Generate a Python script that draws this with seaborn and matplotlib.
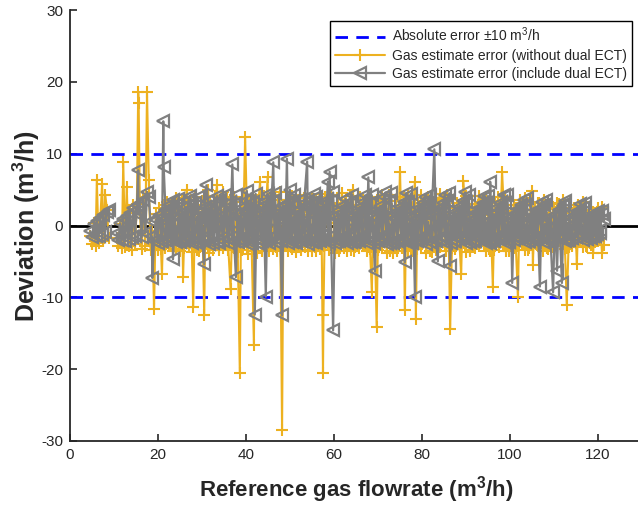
import matplotlib
matplotlib.use("Agg")
import matplotlib.pyplot as plt
from matplotlib.lines import Line2D
import seaborn as sns
import pandas as pd

# ---------------- data ----------------
# cluster 1
flow_1 = [4.6, 5.0, 5.4, 5.8, 6.1, 6.5, 6.9, 7.3, 7.6, 8.0, 8.4, 8.8]
incl_1 = [-0.8, -1.6, 0.2, -1.5, 0.6, -1.4, 1.0, -1.2, 1.5, -0.9, 1.9, 2.2]
without_1 = [-1.5, -2.6, 0.3, -2.8, 6.3, -2.4, 1.1, 5.8, -2.2, 4.3, 2.2, -1.8]

# cluster 2
flow_2 = [10.6, 11.0, 11.4, 11.8, 12.1, 12.5, 12.9, 13.3, 13.6, 14.0, 14.4,
          14.8, 15.2, 15.5, 15.6, 15.9, 16.3, 16.7, 17.1, 17.5, 17.9, 18.3]
incl_2 = [-1.0, -2.0, 0.3, -2.0, 0.9, -2.2, 1.3, -1.9, 1.8, -1.6, 2.4,
          -1.4, 2.8, 7.7, 1.5, 3.2, -1.6, 3.6, -1.0, 4.7, 3.9, 0.6]
without_2 = [-1.8, -2.9, 0.2, -3.1, 8.9, -3.0, 5.3, -2.8, 1.7, -3.4, 2.8,
             -2.6, 3.0, 18.6, 17.1, 1.8, -3.3, 4.0, -2.8, 18.6, 6.4, -3.4]

# cluster 3 (main run, with the outliers)
flow_3 = [
    18.6, 18.7, 19.1, 19.5, 19.9, 20.3, 20.9, 21.2, 21.3, 21.7, 22.1, 22.5, 22.9, 23.3,
    23.4, 23.8, 24.2, 24.6, 25.0, 25.4, 25.7, 26.1, 26.5, 26.9, 27.3,
    27.7, 28.0, 28.4, 28.8, 29.2, 29.6, 30.0, 30.5, 30.7, 31.0, 31.4,
    31.7, 32.1, 32.5, 32.9, 33.4, 33.8, 34.2, 34.8, 35.2, 35.6,
    36.0, 36.5, 36.9, 37.3, 37.7, 38.1, 38.6, 38.9, 39.3, 39.8, 40.2,
    40.5, 40.9, 41.3, 41.8, 42.0, 42.4, 42.8, 43.2, 43.6, 44.0, 44.5, 44.9,
    45.2, 45.6, 46.2, 46.5, 46.9, 47.3, 47.7, 48.2, 48.5, 48.9, 49.3,
    49.6, 50.0, 50.4, 50.8, 51.2, 51.6, 52.0, 52.3, 52.8, 53.2, 53.9,
    54.1, 54.5, 54.9, 55.3, 55.7, 56.0, 56.4, 56.8, 57.2, 57.5, 57.6, 58.0, 58.6,
    58.8, 59.0, 59.8, 60.2, 60.6, 61.0, 61.4, 61.8, 62.2, 62.6,
    63.0, 63.4, 63.8, 64.3, 64.7, 65.1, 65.5, 65.9, 66.3, 66.7, 67.1,
    67.4, 67.8, 68.2, 68.6, 69.0, 69.3, 69.7, 70.1, 70.5, 70.9, 71.3, 71.7,
    72.0, 72.4, 72.8, 73.2, 73.6, 74.0, 74.5, 75.0, 75.4, 75.8, 76.1, 76.4,
    76.8, 77.2, 77.6, 78.0, 78.4, 78.6, 79.0, 79.4, 79.8, 80.2, 80.6,
    81.0, 81.4, 81.8, 82.2, 82.8, 83.2, 83.6, 84.0, 84.4, 84.8, 85.2,
    85.5, 86.0, 86.4, 86.8, 87.2, 87.6, 88.0, 88.5, 88.9, 89.4, 89.8,
    90.0, 90.4, 90.8, 91.2, 91.6, 92.0, 92.4, 92.9, 93.3, 93.8, 94.2,
    94.5, 94.9, 95.3, 95.5, 95.8, 96.1, 96.5, 96.9, 97.3, 97.7, 98.2, 98.6,
    99.0, 99.4, 99.8, 100.2, 100.5, 100.9, 101.3, 101.8, 102.2, 102.6, 103.1,
    103.5, 103.9, 104.3, 104.7, 105.0, 105.2, 105.6, 106.0, 106.4, 106.8, 107.2,
    107.6, 108.0, 108.4, 108.8, 109.2, 109.8, 110.2, 110.7, 111.1, 111.8, 112.2,
    112.5, 112.9, 113.3, 113.7, 114.1, 114.5, 115.0, 115.2, 115.6, 116.0,
    116.5, 116.9, 117.3, 117.7, 118.1, 118.5, 118.9, 119.3, 119.7, 120.1, 120.5, 120.9, 121.3,
]
incl_3 = [
    -1.5, -7.3, -2.2, 0.8, -2.4, 1.5, -2.1, 14.5, 8.1, 2.2, -1.8, 2.8, -1.5, 3.6,
    -4.7, 0.4, -2.3, 1.1, -2.1, 1.8, -1.9, 2.6, -1.6, 3.5, 4.1,
    -2.5, 0.2, -2.3, 1.2, -2.0, 1.9, -1.8, -5.4, 2.6, 5.6, 3.4,
    -2.6, 0.6, -2.4, 1.4, -2.1, 2.0, 3.6, -1.6, 4.3, 3.0,
    -2.4, 0.5, 8.5, -2.2, -7.2, 1.6, -2.0, 2.4, -1.6, 3.4, 4.8,
    -2.6, 0.7, -2.4, 1.2, -12.4, 1.8, -2.0, 2.6, -1.7, 3.3, -9.9, 4.4,
    -2.5, 0.6, 8.8, -2.3, 1.6, -2.0, 2.4, -12.5, 2.8, -1.5, 9.3,
    -2.4, 5.0, -2.3, 1.3, -2.1, 2.0, -1.8, 3.6, -1.5, 3.1, 8.9,
    -2.6, 0.6, -2.3, 1.4, -2.1, 4.0, -1.8, 2.7, -1.5, 1.9, 3.3, -1.2, 6.1,
    -2.4, 7.5, -14.6, 1.3, -2.2, 2.0, -1.9, 2.7, -1.5, 3.7,
    -2.5, 0.6, -2.3, 1.3, -2.1, 1.9, -1.8, 2.6, -1.5, 3.3, 4.2,
    -2.4, 6.7, -2.2, 1.3, -2.0, -6.4, 1.9, -1.7, 2.7, -1.4, 3.9, 4.6,
    -2.6, 0.6, -2.4, 1.3, -2.1, 1.9, -1.9, 2.6, -1.6, 3.3, -5.1, 4.5,
    -2.5, 0.5, -2.3, 1.2, -9.9, 1.8, -2.0, 2.4, -1.6, 3.1, 4.0,
    -2.6, 0.5, -2.3, 1.3, 10.6, -2.0, -5.0, 2.5, -1.6, 3.2, 4.3,
    -2.5, 0.6, -5.6, 1.3, -2.1, 1.9, -1.8, 2.6, -1.5, 3.4, 4.6,
    -2.5, 0.5, -2.3, 1.2, -2.1, 1.8, -1.8, 2.5, -1.5, 3.1, 4.1,
    -2.4, 0.6, -2.2, 6.1, -2.0, 1.6, -1.8, 2.4, -1.5, 3.1, -1.2, 4.2,
    -2.4, 0.4, -2.2, 1.2, -8.0, 1.6, -1.8, 2.3, -1.5, 2.9, 3.6,
    -2.3, 0.4, -2.1, 1.1, -1.9, 1.5, -1.7, 2.1, -1.4, -8.5, 3.3,
    -2.3, 0.3, -2.1, 1.0, -1.9, -9.3, 1.5, -6.3, 2.1, -8.0, 3.0,
    -2.2, 0.3, -2.0, 1.0, -1.8, 1.5, -1.6, 2.0, -1.3, 3.0,
    -2.0, 0.3, -1.8, 0.9, -1.6, 1.3, -1.4, 1.7, -1.2, 2.0, -0.6, 1.6, 0.9,
]
without_3 = [
    -2.6, -0.8, -11.6, 1.6, -3.4, 2.4, -6.8, 0.5, 2.9, -3.1, 3.3, -2.7, 3.0, -1.2,
    -3.5, 1.5, -3.3, 2.5, -2.9, 3.6, -7.1, 1.2, 5.0, -1.8, 2.9,
    -3.7, -11.3, 1.8, -3.4, 2.9, -3.0, 3.4, -12.4, -2.2, 2.4, 4.9,
    -3.8, 1.4, -3.4, 2.4, 5.6, -3.0, 2.2, 4.7, -2.2, 3.7,
    -3.4, -8.9, 1.5, -3.2, 2.1, -2.8, -20.6, 3.3, -2.4, 12.3, 2.2,
    -3.9, 1.3, -3.5, -16.6, 2.0, -3.0, 3.2, 6.0, -2.5, 4.1, 1.5, 6.7,
    -3.6, 1.4, -3.3, 2.4, -3.0, 3.5, 4.7, -28.4, 2.0, -2.4, 3.0,
    -3.6, 0.6, -3.3, 2.7, -2.9, 3.3, -2.6, 4.2, -2.2, 3.8, 1.9,
    -3.6, 1.4, -3.5, 2.3, -3.0, 3.6, -2.6, 4.4, -2.2, -20.6, -12.4, 4.0, 2.3,
    -3.4, 0.4, -3.2, 2.5, -3.0, 3.0, -2.6, 4.5, -2.0, 3.2,
    -3.6, 1.2, -3.4, 5.0, -3.0, 2.8, -2.6, 4.0, -2.3, 3.5, 1.8,
    -3.5, 0.5, -3.3, -9.2, 2.4, -2.9, -14.1, 3.4, -2.5, 4.3, -1.8, 3.0,
    -3.8, 1.2, -3.5, 2.3, -3.1, 3.4, -2.7, 7.5, -2.3, 3.9, -11.8, 2.0,
    -3.6, 1.3, -3.3, 2.6, 6.0, -13.0, 3.1, -2.6, 4.2, -2.0, 3.3,
    -3.8, 1.0, -3.5, 2.3, -2.9, 3.6, -2.6, 4.4, -2.2, 3.8, 1.6,
    -3.6, 1.1, -14.4, -3.2, 2.4, -2.9, 3.2, -2.5, -6.8, 6.2, 2.1,
    -3.7, 1.2, -3.4, 2.3, -3.0, 3.0, -2.6, 4.1, -2.2, 3.5, 1.7,
    -3.5, 1.0, -3.3, 1.8, -2.9, -8.5, 3.1, -2.5, 4.0, -2.1, 7.4, 2.4,
    -3.6, 0.9, -3.3, 2.0, -2.9, 2.9, -2.5, -9.9, 3.6, -2.0, 3.0,
    -3.4, 1.0, -3.1, 2.2, 4.8, -5.5, 2.6, -2.6, 3.2, -2.2, 2.5,
    -3.5, 0.8, -3.2, 1.8, -2.8, 2.6, -2.6, 3.1, -2.2, 2.4, 1.2,
    -3.3, -11.0, -3.0, 1.7, -2.7, 2.4, -2.4, -5.3, 2.6, 1.0,
    -3.0, 0.6, -2.8, 1.4, -2.5, 2.0, -3.8, 1.5, -2.2, -2.1, 0.9, -3.8, -2.7,
]

# cluster 4 (second pass over the main range, inside the band)
flow_4 = [
    20.6, 21.1, 21.6, 22.1, 22.6, 23.1, 23.6, 24.1, 24.6,
    25.0, 25.5, 26.0, 26.5, 27.0, 27.5, 28.0, 28.5, 29.0,
    29.4, 29.9, 30.4, 30.9, 31.4, 31.9, 32.4, 32.9, 33.4,
    33.8, 34.3, 34.8, 35.3, 35.8, 36.3, 36.8, 37.3, 37.8,
    38.2, 38.7, 39.2, 39.7, 40.2, 40.7, 41.2, 41.7, 42.2,
    42.6, 43.1, 43.6, 44.1, 44.6, 45.1, 45.6, 46.1, 46.6,
    47.0, 47.5, 48.0, 48.5, 49.0, 49.5, 50.0, 50.5, 51.0,
    51.4, 51.9, 52.4, 52.9, 53.4, 53.9, 54.4, 54.9, 55.4,
    55.8, 56.3, 56.8, 57.3, 57.8, 58.3, 58.8, 59.3, 59.8,
    60.2, 60.7, 61.2, 61.7, 62.2, 62.7, 63.2, 63.7, 64.2,
    64.6, 65.1, 65.6, 66.1, 66.6, 67.1, 67.6, 68.1, 68.6,
    69.0, 69.5, 70.0, 70.5, 71.0, 71.5, 72.0, 72.5, 73.0,
    73.4, 73.9, 74.4, 74.9, 75.4, 75.9, 76.4, 76.9, 77.4,
    77.8, 78.3, 78.8, 79.3, 79.8, 80.3, 80.8, 81.3, 81.8,
    82.2, 82.7, 83.2, 83.7, 84.2, 84.7, 85.2, 85.7, 86.2,
    86.6, 87.1, 87.6, 88.1, 88.6, 89.1, 89.6, 90.1, 90.6,
    91.0, 91.5, 92.0, 92.5, 93.0, 93.5, 94.0, 94.5, 95.0,
    95.4, 95.9, 96.4, 96.9, 97.4, 97.9, 98.4, 98.9, 99.4,
    99.8, 100.3, 100.8, 101.3, 101.8, 102.3, 102.8, 103.3, 103.8,
    104.2, 104.7, 105.2, 105.7, 106.2, 106.7, 107.2, 107.7, 108.2,
    108.6, 109.1, 109.6, 110.1, 110.6, 111.1, 111.6, 112.1, 112.6,
    113.0, 113.5, 114.0, 114.5, 115.0, 115.5, 116.0, 116.5, 117.0,
    117.4, 117.9, 118.4, 118.9, 119.4, 119.9, 120.4, 120.9,
]
incl_4 = [
    -2.1, 0.8, -2.0, 1.6, -1.7, 2.3, -1.4, 2.9, 3.7,
    -2.3, 0.9, -2.1, 1.8, -1.9, 2.5, -1.6, 3.1, 4.0,
    -2.2, 1.0, -2.0, 1.7, -1.8, 2.4, -1.5, 3.2, 4.1,
    -2.4, 0.8, -2.1, 1.6, -1.9, 2.3, -1.6, 3.0, 4.2,
    -2.3, 0.9, -2.2, 1.8, -1.8, 2.5, -1.5, 3.3, 4.4,
    -2.5, 1.0, -2.2, 1.9, -2.0, 2.6, -1.6, 3.4, 4.5,
    -2.4, 0.9, -2.1, 1.8, -1.9, 2.5, -1.6, 3.3, 4.3,
    -2.5, 0.8, -2.2, 1.7, -2.0, 2.4, -1.7, 3.2, 4.4,
    -2.4, 1.0, -2.1, 1.9, -1.9, 2.6, -1.6, 3.4, 4.6,
    -2.5, 0.9, -2.2, 1.8, -2.0, 2.5, -1.7, 3.3, 4.3,
    -2.3, 0.8, -2.1, 1.7, -1.8, 2.4, -1.5, 3.1, 4.2,
    -2.4, 1.0, -2.2, 1.9, -1.9, 2.6, -1.6, 3.4, 4.5,
    -2.5, 0.9, -2.2, 1.8, -2.0, 2.5, -1.7, 3.3, 4.4,
    -2.4, 0.8, -2.1, 1.7, -1.9, 2.4, -1.6, 3.2, 4.2,
    -2.5, 1.0, -2.2, 1.9, -2.0, 2.6, -1.7, 3.4, 4.5,
    -2.4, 0.9, -2.1, 1.8, -1.9, 2.5, -1.6, 3.3, 4.3,
    -2.3, 0.8, -2.1, 1.7, -1.8, 2.4, -1.5, 3.1, 4.1,
    -2.4, 0.9, -2.2, 1.8, -1.9, 2.5, -1.6, 3.2, 4.2,
    -2.3, 0.8, -2.0, 1.6, -1.8, 2.3, -1.5, 2.9, 3.8,
    -2.2, 0.7, -2.0, 1.5, -1.7, 2.2, -1.4, 2.8, 3.6,
    -2.1, 0.7, -1.9, 1.4, -1.7, 2.1, -1.4, 2.7, 3.4,
    -2.0, 0.6, -1.8, 1.3, -1.6, 1.9, -1.3, 2.5, 3.2,
    -1.9, 0.5, -1.7, 1.1, -1.4, 1.6, -1.0, 2.0,
]
without_4 = [
    -3.3, 1.7, -3.0, 2.5, -2.7, 3.2, -2.3, 3.8, 1.4,
    -3.5, 1.9, -3.2, 2.7, -2.9, 3.5, -2.5, 4.0, 1.6,
    -3.6, 1.6, -3.3, 2.8, -3.0, 3.3, -2.6, 4.1, 1.8,
    -3.4, 1.8, -3.1, 2.6, -2.8, 3.6, -2.4, 3.9, 1.5,
    -3.7, 1.7, -3.4, 2.7, -3.0, 3.4, -2.6, 4.2, 1.7,
    -3.8, 1.9, -3.5, 2.9, -3.1, 3.7, -2.7, 4.3, 1.8,
    -3.6, 1.8, -3.3, 2.8, -2.9, 3.5, -2.5, 4.1, 1.6,
    -3.7, 1.6, -3.4, 2.6, -3.0, 3.4, -2.6, 4.0, 1.5,
    -3.6, 1.9, -3.3, 2.9, -2.9, 3.6, -2.5, 4.3, 1.9,
    -3.8, 1.8, -3.5, 2.7, -3.1, 3.5, -2.7, 4.1, 1.7,
    -3.5, 1.7, -3.2, 2.6, -2.8, 3.3, -2.4, 4.0, 1.6,
    -3.7, 1.9, -3.4, 2.8, -3.0, 3.6, -2.6, 4.2, 1.8,
    -3.8, 1.8, -3.5, 2.7, -3.1, 3.5, -2.7, 4.1, 1.7,
    -3.6, 1.7, -3.3, 2.6, -2.9, 3.4, -2.5, 4.0, 1.6,
    -3.7, 1.9, -3.4, 2.8, -3.0, 3.6, -2.6, 4.2, 1.8,
    -3.6, 1.8, -3.3, 2.7, -2.9, 3.5, -2.5, 4.1, 1.7,
    -3.5, 1.7, -3.2, 2.6, -2.8, 3.3, -2.4, 3.9, 1.5,
    -3.6, 1.8, -3.4, 2.7, -3.0, 3.4, -2.6, 4.0, 1.6,
    -3.5, 1.6, -3.2, 2.5, -2.8, 3.2, -2.4, 3.8, 1.4,
    -3.4, 1.5, -3.1, 2.4, -2.7, 3.1, -2.3, 3.6, 1.3,
    -3.3, 1.4, -3.0, 2.3, -2.6, 3.0, -2.2, 3.5, 1.2,
    -3.2, 1.3, -2.9, 2.1, -2.5, 2.8, -2.1, 3.3, 1.1,
    -3.0, 1.1, -2.7, 1.9, -2.3, 2.4, -1.8, 2.6,
]

limit_lines = [10, -10]
x_ticks = [0, 20, 40, 60, 80, 100, 120]
y_ticks = [-30, -20, -10, 0, 10, 20, 30]

# ---------------- style ----------------
sns.set_theme(style="white")
plt.rcParams["font.family"] = ["Liberation Sans", "DejaVu Sans"]
plt.rcParams["axes.unicode_minus"] = False
plt.rcParams["mathtext.fontset"] = "custom"
plt.rcParams["mathtext.rm"] = "Liberation Sans"
plt.rcParams["mathtext.bf"] = "Liberation Sans:bold"

YELLOW = "#EDB120"
GRAY = "#808080"
BLUE = "#0000FF"
TXT = "#262626"

fig = plt.figure(figsize=(6.38, 5.09), dpi=100)
ax = fig.add_axes([70 / 638, 1 - 441 / 509, (642 - 70) / 638, (441 - 10) / 509])

ax.axhline(0, color="black", lw=2.0, zorder=1)
for yv in limit_lines:
    ax.axhline(yv, color=BLUE, lw=2.0, ls=(0, (4.5, 3)), zorder=1)

clusters = [(flow_1, without_1, incl_1), (flow_2, without_2, incl_2),
            (flow_4, without_4, incl_4), (flow_3, without_3, incl_3)]
for fl, wo, inc in clusters:
    df = pd.DataFrame({"flow": fl, "without": wo, "include": inc})
    sns.lineplot(data=df, x="flow", y="without", sort=False, estimator=None,
                 color=YELLOW, lw=1.5, marker="+", markersize=8,
                 markeredgewidth=1.5, markeredgecolor=YELLOW, ax=ax, zorder=2)
for fl, wo, inc in clusters:
    df = pd.DataFrame({"flow": fl, "without": wo, "include": inc})
    sns.lineplot(data=df, x="flow", y="include", sort=False, estimator=None,
                 color=GRAY, lw=1.6, marker="<", markersize=8.5,
                 markeredgewidth=1.6, markeredgecolor=GRAY,
                 markerfacecolor="none", ax=ax, zorder=3)

ax.set_xlim(0, 130)
ax.set_ylim(-30, 30)
ax.set_xticks(x_ticks)
ax.set_yticks(y_ticks)
ax.tick_params(direction="in", length=5, width=1.2, labelsize=11,
               colors=TXT, pad=5, left=True, bottom=True)
for s in ["top", "right"]:
    ax.spines[s].set_visible(False)
for s in ["left", "bottom"]:
    ax.spines[s].set_color(TXT)
    ax.spines[s].set_linewidth(1.3)

ax.set_xlabel(r"Reference gas flowrate (m$^{\mathbf{3}}$/h)", fontsize=16,
              fontweight="bold", color=TXT, labelpad=9)
ax.set_ylabel(r"Deviation (m$^{\mathbf{3}}$/h)", fontsize=18,
              fontweight="bold", color=TXT, labelpad=-1)

handles = [
    Line2D([], [], color=BLUE, lw=2.0, ls=(0, (4.5, 3))),
    Line2D([], [], color=YELLOW, lw=1.5, marker="+", markersize=9,
           markeredgewidth=1.5),
    Line2D([], [], color=GRAY, lw=1.6, marker="<", markersize=9,
           markeredgewidth=1.6, markerfacecolor="none"),
]
labels = [r"Absolute error ±10 m$^3$/h",
          "Gas estimate error (without dual ECT)",
          "Gas estimate error (include dual ECT)"]
leg = ax.legend(handles, labels, loc="upper right",
                bbox_to_anchor=(632 / 638, 1 - 21 / 509),
                bbox_transform=fig.transFigure, fontsize=10,
                frameon=True, fancybox=False, framealpha=1,
                edgecolor="black", borderpad=0.35, labelspacing=0.3,
                handlelength=3.6, handletextpad=0.5, borderaxespad=0)
leg.get_frame().set_linewidth(1.0)

fig.savefig("out.png", dpi=100)
